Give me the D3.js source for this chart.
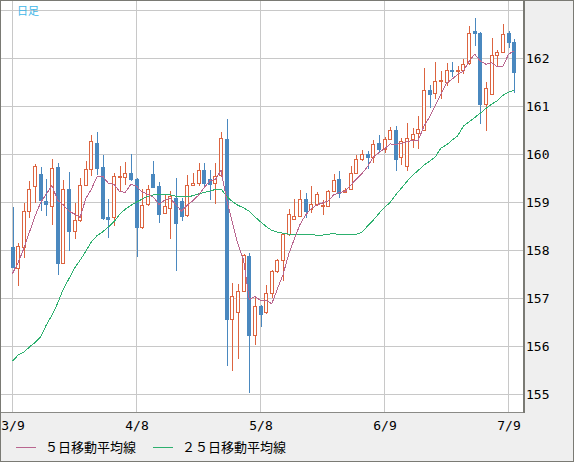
<!DOCTYPE html>
<html><head><meta charset="utf-8">
<script src="https://cdn.jsdelivr.net/npm/d3@7"></script>
<style>html,body{margin:0;padding:0;background:#efefef;}svg{display:block;}</style>
</head><body>
<svg id="chart" width="574" height="462"></svg>
<script>
// ---- data ----
const xTickIdx = [0, 22, 44, 66, 88];
const xTickLabels = ["3/9", "4/8", "5/8", "6/9", "7/9"];
const yTicks = [155, 156, 157, 158, 159, 160, 161, 162];
const yGrid = [155, 156, 157, 158, 159, 160, 161, 162, 163];

const opens = [158.07,157.64,158.07,158.82,159.35,159.59,159.03,158.92,159.73,157.75,
159.29,158.40,158.63,159.37,159.69,160.23,159.73,158.69,158.70,159.53,
159.53,159.62,159.50,158.48,158.96,159.59,159.34,158.79,158.88,159.10,
159.03,158.74,159.37,159.40,159.67,159.49,159.40,159.57,160.32,156.58,
156.71,157.16,157.88,156.25,156.84,156.71,157.12,157.57,157.81,158.34,
158.66,158.72,159.07,158.86,158.96,158.92,158.93,159.24,159.49,159.22,
159.29,159.62,159.90,160.01,159.94,160.24,160.12,160.33,160.51,159.95,
159.76,160.32,160.44,160.52,161.34,161.29,161.54,161.51,161.77,161.74,
161.76,161.90,162.57,162.54,161.06,161.27,162.08,162.14,162.54,162.35];
const highs = [158.91,158.15,158.99,159.44,159.80,159.73,159.50,159.90,159.83,159.46,
159.64,158.99,159.52,159.87,160.40,160.46,159.99,159.08,159.61,159.76,
159.84,160.02,159.51,159.29,159.36,159.86,159.43,159.15,159.24,159.52,
159.09,159.57,159.62,159.83,159.83,159.67,159.83,160.46,160.74,157.33,
157.31,157.92,157.95,157.03,156.86,157.28,157.59,157.82,158.37,158.86,
159.07,159.26,159.19,159.34,159.22,159.05,159.26,159.60,159.66,159.30,
159.76,159.99,160.09,160.08,160.31,160.40,160.36,160.58,160.60,160.34,
160.65,160.56,160.80,161.81,161.44,161.93,161.74,161.90,161.93,161.85,
161.98,162.68,162.85,162.55,161.51,162.42,162.18,162.71,162.57,162.40];
const lows = [157.65,157.28,157.87,158.70,159.01,158.85,158.74,158.56,157.52,157.73,
158.01,158.27,158.61,159.36,159.57,159.60,158.65,158.28,158.53,159.26,
159.38,159.46,157.89,158.47,158.94,159.32,158.60,158.79,158.27,157.60,
158.63,158.71,159.36,159.36,159.36,159.08,158.98,159.55,155.61,155.52,
155.77,157.15,155.05,156.05,156.43,156.70,157.03,157.55,157.38,158.32,
158.65,158.71,158.70,158.80,158.94,158.77,158.92,159.24,159.12,159.22,
159.28,159.61,159.89,159.71,159.85,160.05,160.05,160.32,159.67,159.80,
159.67,160.16,160.13,160.51,160.98,161.17,161.17,161.44,161.63,161.51,
161.70,161.88,162.29,160.66,160.52,161.26,161.84,162.13,162.24,161.30];
const closes = [157.66,158.09,158.82,159.29,159.76,159.05,158.96,159.71,157.75,159.29,
158.41,158.63,159.37,159.69,160.28,159.72,158.68,158.65,159.55,159.56,
159.62,159.50,158.49,158.94,159.29,159.33,158.77,158.92,159.13,158.58,
158.72,159.37,159.41,159.67,159.40,159.38,159.55,160.35,156.57,157.05,
157.15,157.90,156.25,156.84,156.67,157.12,157.57,157.81,158.34,158.77,
158.72,159.07,158.82,158.96,159.17,158.95,159.24,159.47,159.20,159.27,
159.62,159.90,160.01,159.94,160.21,160.12,160.33,160.51,159.90,160.28,
160.35,160.42,160.54,161.34,161.27,161.53,161.56,161.76,161.74,161.76,
161.88,162.54,162.53,161.05,161.38,162.07,162.13,162.52,162.35,161.72];
const ma5 = [157.52,157.75,158.04,158.38,158.72,159.00,159.18,159.35,159.05,158.95,
158.82,158.76,158.69,159.08,159.28,159.54,159.55,159.40,159.38,159.23,
159.21,159.38,159.34,159.22,159.17,159.11,158.96,159.05,159.09,158.95,
158.82,158.94,159.04,159.15,159.31,159.45,159.48,159.67,159.05,158.58,
158.13,157.80,156.98,157.04,156.96,156.96,156.89,157.20,157.50,157.92,
158.24,158.54,158.74,158.87,158.95,158.99,159.03,159.16,159.21,159.23,
159.36,159.49,159.60,159.75,159.94,160.04,160.12,160.22,160.21,160.23,
160.27,160.29,160.30,160.59,160.78,161.02,161.25,161.49,161.57,161.67,
161.74,161.94,162.09,161.95,161.88,161.91,161.83,161.83,162.09,162.16];
const ma25 = [155.70,155.82,155.88,155.99,156.08,156.20,156.45,156.65,156.90,157.19,
157.41,157.63,157.80,157.98,158.18,158.31,158.39,158.49,158.60,158.75,
158.86,158.94,159.01,159.07,159.13,159.16,159.17,159.17,159.16,159.13,
159.12,159.12,159.14,159.18,159.21,159.24,159.27,159.28,159.13,159.02,
158.94,158.89,158.82,158.70,158.60,158.50,158.42,158.38,158.36,158.34,
158.34,158.33,158.33,158.33,158.32,158.32,158.34,158.35,158.33,158.34,
158.34,158.34,158.38,158.51,158.63,158.77,158.90,159.00,159.16,159.30,
159.44,159.57,159.67,159.78,159.86,159.95,160.13,160.20,160.30,160.39,
160.59,160.68,160.77,160.86,160.96,161.05,161.12,161.23,161.30,161.34];
const legendLabels = ["５日移動平均線", "２５日移動平均線"];
const titleText = "日足";

// ---- style ----
const C = {
  up: "#dc6440", down: "#4a88bf", ma5: "#b9668f", ma25: "#2db06e",
  grid: "#c8c8c8", frame: "#7a7a74", panel: "#efefef", title: "#3fb6e8"
};
const W = 574, H = 462, plotR = 523, plotB = 412;

const svg = d3.select("#chart");
svg.append("rect").attr("x", 0).attr("y", 0).attr("width", W).attr("height", H).attr("fill", C.panel);
svg.append("rect").attr("x", 0).attr("y", 0).attr("width", plotR).attr("height", plotB).attr("fill", "#fff");

const x = d3.scaleLinear().domain([0, 88]).range([12.5, 508.5]);
const y = d3.scaleLinear().domain([155, 163]).range([394.5, 10.5]);

svg.append("defs").append("clipPath").attr("id", "plotclip")
  .append("rect").attr("x", 1).attr("y", 1).attr("width", plotR - 1).attr("height", plotB - 1);

// grid
const grid = svg.append("g").attr("shape-rendering", "crispEdges");
grid.selectAll("line.h").data(yGrid).join("line").attr("class", "h")
  .attr("x1", 0).attr("x2", plotR).attr("y1", d => Math.floor(y(d)) + 0.5).attr("y2", d => Math.floor(y(d)) + 0.5)
  .attr("stroke", C.grid);
grid.selectAll("line.v").data(xTickIdx).join("line").attr("class", "v")
  .attr("y1", 0).attr("y2", plotB).attr("x1", d => Math.floor(x(d)) + 0.5).attr("x2", d => Math.floor(x(d)) + 0.5)
  .attr("stroke", C.grid);

const plot = svg.append("g").attr("clip-path", "url(#plotclip)");
const idx = d3.range(closes.length);

// candles
const cg = plot.append("g").attr("shape-rendering", "crispEdges");
const candle = cg.selectAll("g").data(idx).join("g");
const px = i => Math.round(x(i));
const py = v => Math.round(y(v));
candle.append("line")
  .attr("x1", i => px(i) + 0.5).attr("x2", i => px(i) + 0.5)
  .attr("y1", i => py(highs[i])).attr("y2", i => py(lows[i]) + 1)
  .attr("stroke", i => closes[i] >= opens[i] ? C.up : C.down);
candle.append("rect")
  .attr("x", i => px(i) - 1.5)
  .attr("width", 3)
  .attr("y", i => py(Math.max(opens[i], closes[i])) + 0.5)
  .attr("height", i => Math.max(1, py(Math.min(opens[i], closes[i])) - py(Math.max(opens[i], closes[i]))))
  .attr("fill", i => closes[i] >= opens[i] ? "#fff" : C.down)
  .attr("stroke", i => closes[i] >= opens[i] ? C.up : C.down);

// moving averages
const line = arr => d3.line().x(i => x(i)).y(i => y(arr[i]))(idx);
plot.append("path").attr("d", line(ma25)).attr("fill", "none").attr("stroke", C.ma25)
  .attr("stroke-width", 1).attr("shape-rendering", "crispEdges");
plot.append("path").attr("d", line(ma5)).attr("fill", "none").attr("stroke", C.ma5)
  .attr("stroke-width", 1).attr("shape-rendering", "crispEdges");

// frame
const fr = svg.append("g").attr("shape-rendering", "crispEdges");
fr.append("line").attr("x1", 0).attr("x2", plotR + 1).attr("y1", plotB + 0.5).attr("y2", plotB + 0.5).attr("stroke", "#8a8a86");
fr.append("line").attr("x1", plotR + 1).attr("x2", plotR + 1).attr("y1", 0).attr("y2", plotB + 1).attr("stroke", C.frame).attr("stroke-width", 2);
fr.append("rect").attr("x", 0.5).attr("y", 0.5).attr("width", W - 1).attr("height", H - 1).attr("fill", "none").attr("stroke", C.frame);

// axes
const fontNum = "'DejaVu Sans Mono', monospace";
const yAxis = d3.axisRight(y).tickValues(yTicks).tickFormat(d3.format("d")).tickSize(0).tickPadding(0);
const ya = svg.append("g").attr("transform", "translate(526,0)").call(yAxis);
ya.select(".domain").remove();
ya.attr("font-family", fontNum).attr("font-size", 13);
ya.selectAll("text").attr("fill", "#000");

const xAxis = d3.axisBottom(x).tickValues(xTickIdx).tickFormat((d, i) => xTickLabels[i]).tickSize(0).tickPadding(0);
const xa = svg.append("g").attr("transform", "translate(0,421)").call(xAxis);
xa.select(".domain").remove();
xa.attr("font-family", fontNum).attr("font-size", 13);
xa.selectAll("text").attr("fill", "#000");

// title
svg.append("text").attr("x", 17).attr("y", 15).text(titleText)
  .attr("font-family", "'Noto Sans CJK JP', sans-serif").attr("font-size", 11).attr("fill", C.title);

// legend
const lg = svg.append("g").attr("font-family", "'Noto Sans CJK JP', sans-serif").attr("font-size", 13);
const legendItems = [
  {label: legendLabels[0], color: C.ma5, x: 16},
  {label: legendLabels[1], color: C.ma25, x: 153}
];
legendItems.forEach(it => {
  lg.append("line").attr("x1", it.x).attr("x2", it.x + 20).attr("y1", 447.5).attr("y2", 447.5)
    .attr("stroke", it.color).attr("shape-rendering", "crispEdges");
  lg.append("text").attr("x", it.x + 29).attr("y", 447).attr("dy", "0.36em").attr("fill", "#000").text(it.label);
});
</script>
</body></html>
